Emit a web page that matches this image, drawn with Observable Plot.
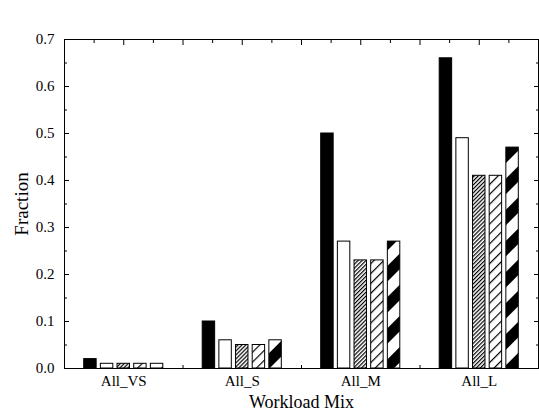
<!DOCTYPE html>
<html>
<head>
<meta charset="utf-8">
<script src="https://cdn.jsdelivr.net/npm/d3@7"></script>
<script src="https://cdn.jsdelivr.net/npm/@observablehq/plot@0.6"></script>
<style>
  body { margin: 0; background: #fff; }
</style>
</head>
<body>
<div id="chart"></div>
<script>
// Workload mixes along the x axis
const groups = ["All_VS", "All_S", "All_M", "All_L"];

// One array per bar style, one value per workload mix
const solid       = [0.02, 0.10, 0.50, 0.66];
const open        = [0.01, 0.06, 0.27, 0.49];
const fineHatch   = [0.01, 0.05, 0.23, 0.41];
const coarseHatch = [0.01, 0.05, 0.23, 0.41];
const boldStripe  = [0.01, 0.06, 0.27, 0.47];

const seriesKeys = ["solid", "open", "fineHatch", "coarseHatch", "boldStripe"];
const seriesValues = [solid, open, fineHatch, coarseHatch, boldStripe];
const seriesFills = ["black", "white", "url(#fine-hatch)", "url(#coarse-hatch)", "url(#bold-stripe)"];

// Axis ticks
const yMajor = [0, 0.1, 0.2, 0.3, 0.4, 0.5, 0.6, 0.7];
const yMinor = [0.05, 0.15, 0.25, 0.35, 0.45, 0.55, 0.65];
const groupCenters = [0.5, 1.5, 2.5, 3.5];
const groupBounds = [1, 2, 3];
const topMajor = [0.5, 1, 1.5, 2, 2.5, 3, 3.5];
const topMinor = [0.25, 0.75, 1.25, 1.75, 2.25, 2.75, 3.25, 3.75];

// Flat table: one row per bar
const rows = groups.flatMap((g, gi) =>
  seriesKeys.map((key, si) => ({group: g, gi, si, key, value: seriesValues[si][gi]}))
);

// Bars sit side by side inside each unit-wide group slot
const barStep = 0.1406;
const barWidth = 0.105;
const barX = d => d.gi + 0.5 + (d.si - 2) * barStep;

// Tick-only axis (no labels)
const ticksOnly = (axis, anchor, ticks, size) =>
  axis({anchor, ticks, tickSize: size, tickFormat: () => "", label: null});

const svg = Plot.plot({
  width: 539,
  height: 417,
  marginLeft: 64,
  marginRight: 1,
  marginTop: 39,
  marginBottom: 49,
  style: {fontFamily: "'Liberation Serif', 'Times New Roman', serif", fontSize: "15px", background: "white", color: "black"},
  x: {domain: [0, 4]},
  y: {domain: [0, 0.7]},
  color: {type: "ordinal", domain: seriesKeys, range: seriesFills},
  marks: [
    Plot.rectY(rows, {
      x1: d => barX(d) - barWidth / 2,
      x2: d => barX(d) + barWidth / 2,
      y1: 0,
      y2: "value",
      fill: "key",
      stroke: "black",
      strokeWidth: 1
    }),
    Plot.frame({stroke: "black"}),
    // y axis labels and inward ticks on both sides
    Plot.axisY({anchor: "left", ticks: yMajor, tickSize: 0, tickPadding: 10, tickFormat: d3.format(".1f"), label: null, fontSize: 15}),
    ticksOnly(Plot.axisY, "left", yMajor, -5),
    ticksOnly(Plot.axisY, "left", yMinor, -3),
    ticksOnly(Plot.axisY, "right", yMajor, -5),
    ticksOnly(Plot.axisY, "right", yMinor, -3),
    // top edge ticks
    ticksOnly(Plot.axisX, "top", topMajor, -5),
    ticksOnly(Plot.axisX, "top", topMinor, -3),
    // bottom: group names and short separators between groups
    ticksOnly(Plot.axisX, "bottom", groupBounds, -3),
    Plot.axisX({anchor: "bottom", ticks: groupCenters, tickSize: 0, tickPadding: 7, tickFormat: d => groups[Math.floor(d)], label: null, fontSize: 15}),
    // axis titles
    Plot.text(["Fraction"], {text: d => d, frameAnchor: "left", dx: -43, rotate: -90, textAnchor: "middle", lineAnchor: "middle", fontSize: 19, fill: "black"}),
    Plot.text(["Workload Mix"], {text: d => d, frameAnchor: "bottom", dy: 34, textAnchor: "middle", lineAnchor: "middle", fontSize: 18, fill: "black"})
  ]
});

// Hatch patterns for the textured bars
const defs = d3.select(svg).insert("defs", ":first-child");
function stripes(id, period, band) {
  const p = defs.append("pattern")
    .attr("id", id)
    .attr("patternUnits", "userSpaceOnUse")
    .attr("width", period)
    .attr("height", period)
    .attr("patternTransform", "rotate(45)");
  p.append("rect").attr("width", period).attr("height", period).attr("fill", "white");
  p.append("rect").attr("width", band).attr("height", period).attr("fill", "black");
}
stripes("fine-hatch", 2.8, 1.2);
stripes("coarse-hatch", 7, 1.2);
stripes("bold-stripe", 22, 11);

document.getElementById("chart").appendChild(svg);
</script>
</body>
</html>
